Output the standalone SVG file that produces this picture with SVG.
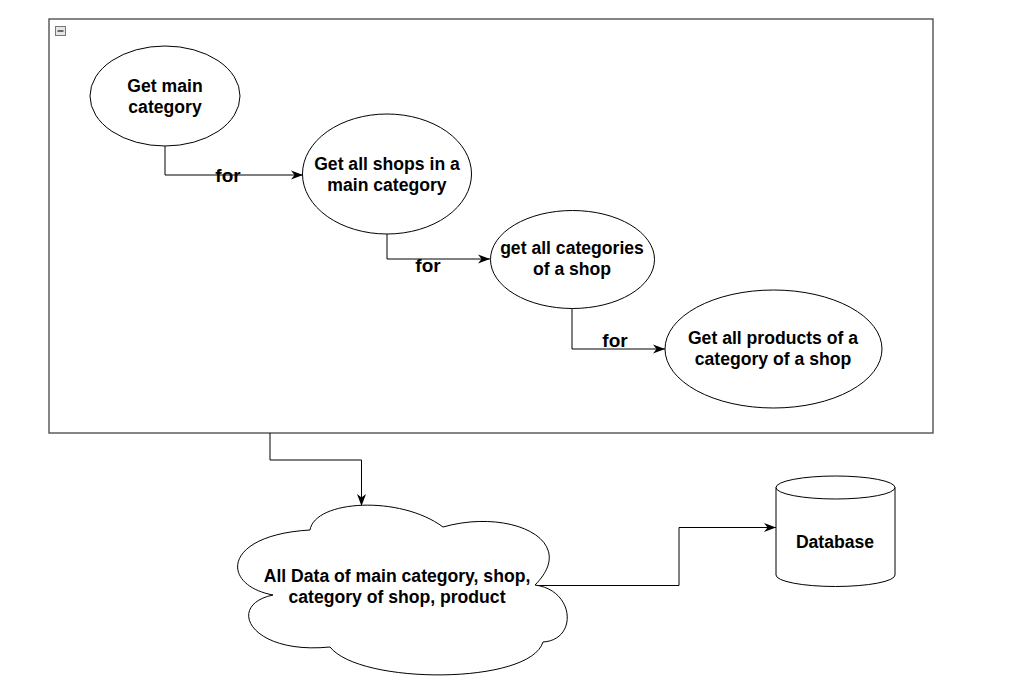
<svg xmlns="http://www.w3.org/2000/svg" width="1024" height="684" viewBox="0 0 1024 684">
<defs>
<style>
.n{fill:#fff;stroke:#000;stroke-width:1}
.t{font-family:"Liberation Sans",Arial,sans-serif;font-weight:bold;font-size:17.6px;fill:#000;text-anchor:middle}
.l{font-family:"Liberation Sans",Arial,sans-serif;font-weight:bold;font-size:19px;fill:#000;text-anchor:middle}
.e{fill:none;stroke:#000;stroke-width:1}
</style>
<marker id="a" viewBox="0 0 12 10" refX="12" refY="5" markerWidth="12" markerHeight="10" markerUnits="userSpaceOnUse" orient="auto">
<path d="M0,0.5 L12,5 L0,9.5 L3.5,5 Z" fill="#000"/>
</marker>
</defs>
<rect width="1024" height="684" fill="#fff"/>
<g id="container">
<rect x="49" y="19" width="884" height="414" fill="#fff" stroke="#444" stroke-width="1.3"/>
<rect x="55.5" y="26.5" width="10" height="9" fill="#e6e6e6" stroke="#777" stroke-width="1"/>
<line x1="57.5" y1="31" x2="63.5" y2="31" stroke="#333" stroke-width="1.4"/>
</g>
<g id="connectors">
<path class="e" d="M165,146 V175 H303" marker-end="url(#a)"/>
<path class="e" d="M387,234 V259 H490" marker-end="url(#a)"/>
<path class="e" d="M572,308 V349 H665" marker-end="url(#a)"/>
<path class="e" d="M270,433 V460 H361.5 V506" marker-end="url(#a)"/>
<path class="e" d="M535,585.5 H679 V527.5 H776" marker-end="url(#a)"/>
<text class="l" x="228" y="182">for</text>
<text class="l" x="428" y="272">for</text>
<text class="l" x="615" y="347">for</text>
</g>
<g id="n1">
<ellipse class="n" cx="165" cy="96" rx="75" ry="50"/>
<text class="t" x="165" y="92">Get main</text>
<text class="t" x="165" y="113">category</text>
</g>
<g id="n2">
<ellipse class="n" cx="387" cy="174" rx="84.5" ry="60"/>
<text class="t" x="387" y="170">Get all shops in a</text>
<text class="t" x="387" y="191">main category</text>
</g>
<g id="n3">
<ellipse class="n" cx="572.5" cy="259.5" rx="82" ry="49"/>
<text class="t" x="572" y="254">get all categories</text>
<text class="t" x="572" y="275">of a shop</text>
</g>
<g id="n4">
<ellipse class="n" cx="773.5" cy="349" rx="108.5" ry="59"/>
<text class="t" x="773" y="344">Get all products of a</text>
<text class="t" x="773" y="365">category of a shop</text>
</g>
<g id="cloud">
<path class="n" d="M310,530 C315,500 400,495 443,527 C510,508 580,540 535,585 C575,590 578,640 543,642 C530,685 360,685 330,647 C250,655 225,605 273,595 C220,585 222,535 310,530 Z"/>
<text class="t" x="397" y="582">All Data of main category, shop,</text>
<text class="t" x="397" y="603">category of shop, product</text>
</g>
<g id="database">
<path class="n" d="M776,487.5 A59.5,11.5 0 0 1 895,487.5 L895,575 A59.5,11.5 0 0 1 776,575 Z"/>
<path class="e" d="M776,487.5 A59.5,11.5 0 0 0 895,487.5"/>
<text class="t" x="835" y="548">Database</text>
</g>
</svg>
